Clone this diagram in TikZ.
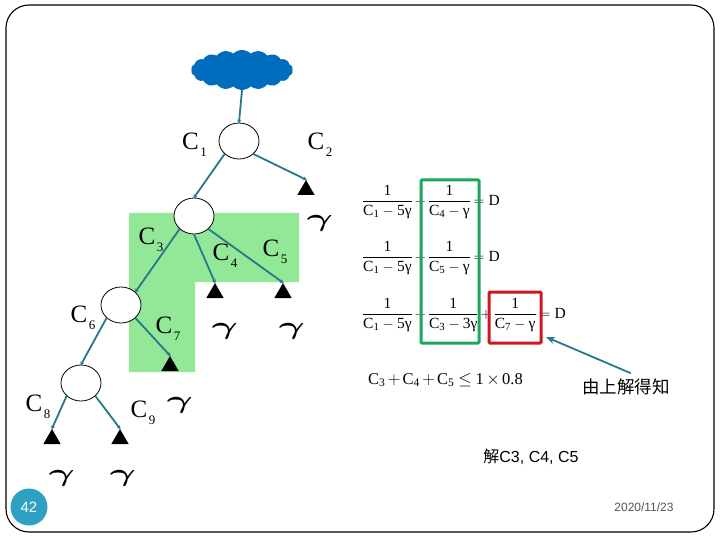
\documentclass[tikz,border=0pt]{standalone}
\usepackage{amsmath,amssymb}
\usepackage{graphicx}
\usepackage{fontspec}
\setmainfont{Liberation Serif}
\newfontfamily\cjkfont{Noto Sans CJK TC}
\newfontfamily\sansfont{Liberation Sans}
\usepackage{xcolor}
\usepackage{tikz}
\usetikzlibrary{shapes.geometric, shapes.symbols, arrows.meta, positioning}
\definecolor{linkteal}{RGB}{38, 120, 140}
\definecolor{cloudblue}{RGB}{0, 108, 190}
\definecolor{zonegreen}{RGB}{146, 232, 150}
\definecolor{boxgreen}{RGB}{28, 168, 92}
\definecolor{boxred}{RGB}{208, 22, 30}
\definecolor{badgeblue}{RGB}{46, 160, 196}
\definecolor{dategray}{RGB}{85, 85, 85}
\nulldelimiterspace=0pt
\newcommand{\capa}[1]{C\raisebox{-0.28em}{\fontsize{13}{13}\selectfont\kern1.5pt #1}}
\newcommand{\rateg}{\scalebox{1.6}[1]{$\boldsymbol{\gamma}$}}
\newcommand{\inv}[2]{\dfrac{\text{1}}{\text{C}_{\text{#1}}-\text{#2γ}}}
\newcommand{\eqd}{=\text{D}}

\begin{document}
\begin{tikzpicture}[
        x=1pt, y=-1pt,
        router/.style={ellipse, draw=black, fill=white, thick, minimum width=40pt, minimum height=36pt, inner sep=0pt},
        leaf/.style={regular polygon, regular polygon sides=3, fill=black, minimum size=20pt, inner sep=0pt},
        link/.style={-{Stealth[length=4pt, width=4pt]}, line width=1.8pt, color=linkteal, shorten >=-1pt},
        pointer/.style={-{Stealth[length=9pt, width=7pt]}, line width=1.8pt, color=linkteal},
        caplabel/.style={font=\fontsize{25}{25}\selectfont, inner sep=0pt},
        rate/.style={font=\fontsize{24}{24}\selectfont, inner sep=0pt},
        eqn/.style={anchor=west, inner sep=0pt, font=\fontsize{15.5}{16}\selectfont},
        markbox/.style={rectangle, draw, line width=3pt, rounded corners=1pt, inner sep=0pt}
    ]
        \useasboundingbox (0, 0) rectangle (720, 540);
        \fill[white] (0, 0) rectangle (720, 540);
        \node[draw=black, line width=1.1pt, rectangle, rounded corners=23pt, minimum width=708pt, minimum height=527pt, inner sep=0pt] (frame) at (360, 268.5) {};

        % Shaded region
        \fill[zonegreen] (129, 213) -- (299, 213) -- (299, 282) -- (195, 282) -- (195, 372) -- (129, 372) -- cycle;

        % Tree
        \node[cloud, cloud puffs=18, cloud puff arc=90, aspect=2.6, fill=cloudblue, minimum width=102pt, minimum height=40pt, inner sep=0pt] (sky) at (242, 70) {};
        \node[router] (n1) at (239, 141) {};
        \node[router] (n2) at (194, 216) {};
        \node[router] (n3) at (121, 305) {};
        \node[router] (n4) at (81, 383) {};
        \node[leaf] (t2) at (306, 190) {};
        \node[leaf] (t4) at (215, 293) {};
        \node[leaf] (t5) at (283, 293) {};
        \node[leaf] (t7) at (170, 366) {};
        \node[leaf] (t8) at (52, 439) {};
        \node[leaf] (t9) at (120, 439) {};

        % Connections
        \draw[link] (sky.south) -- (n1.north);
        \draw[link] (n1.south west) -- (n2.north);
        \draw[link] (n1.south east) -- (t2.north);
        \draw[link] (n2.south west) -- (n3.north east);
        \draw[link] (n2.south) -- (t4.north);
        \draw[link] (n2.south east) -- (t5.north);
        \draw[link] (n3.south west) -- (n4.north);
        \draw[link] (n3.south east) -- (t7.north);
        \draw[link] (n4.south west) -- (t8.north);
        \draw[link] (n4.south east) -- (t9.north);

        % Capacities
        \node[caplabel] (c1) at (194.5, 145) {\capa{1}};
        \node[caplabel] (c2) at (320, 145) {\capa{2}};
        \node[caplabel] (c3) at (151, 239.5) {\capa{3}};
        \node[caplabel] (c4) at (225, 256) {\capa{4}};
        \node[caplabel] (c5) at (275, 252) {\capa{5}};
        \node[caplabel] (c6) at (83, 318) {\capa{6}};
        \node[caplabel] (c7) at (168, 329) {\capa{7}};
        \node[caplabel] (c8) at (38, 407) {\capa{8}};
        \node[caplabel] (c9) at (143, 413) {\capa{9}};

        % Rates
        \node[rate] (r2) at (320, 223) {\rateg};
        \node[rate] (r4) at (225, 331) {\rateg};
        \node[rate] (r5) at (292, 331) {\rateg};
        \node[rate] (r7) at (180, 405) {\rateg};
        \node[rate] (r8) at (62, 478) {\rateg};
        \node[rate] (r9) at (123, 478) {\rateg};

        % Equations
        \node[eqn] (e1) at (363, 202) {$\inv{1}{5}+\inv{4}{}\eqd$};
        \node[eqn] (e2) at (363, 258) {$\inv{1}{5}+\inv{5}{}\eqd$};
        \node[eqn] (e3) at (363, 315) {$\inv{1}{5}+\inv{3}{3}+\inv{7}{}\eqd$};
        \node[eqn, font=\fontsize{16.5}{17}\selectfont] (e4) at (368, 380) {$\medmuskip=2.5mu\thickmuskip=4mu\text{C}_{\text{3}}+\text{C}_{\text{4}}+\text{C}_{\text{5}}\leq\text{1}\times\text{0.8}$};

        \node[markbox, draw=boxgreen, minimum width=58pt, minimum height=163pt] (greenbox) at (450, 261.5) {};
        \node[markbox, draw=boxred, minimum width=52pt, minimum height=51pt] (redbox) at (515, 317.5) {};

        % Notes
        \coordinate (hit) at (546, 337);
        \node[font=\fontsize{17.5}{18}\cjkfont, inner sep=5pt] (note) at (626, 386.5) {由上解得知};
        \draw[pointer] (note.70) -- (hit);
        \node[font=\fontsize{16}{18}\sansfont, inner sep=0pt] (solve) at (531, 457) {{\cjkfont 解}C3, C4, C5};

        % Footer
        \node[circle, fill=badgeblue, text=white, minimum size=37pt, inner sep=0pt, font=\fontsize{15}{15}\sansfont] (page) at (29, 507) {42};
        \node[text=dategray, inner sep=0pt, font=\fontsize{12}{12}\sansfont] (date) at (644, 507) {2020/11/23};
    \end{tikzpicture}
\end{document}
